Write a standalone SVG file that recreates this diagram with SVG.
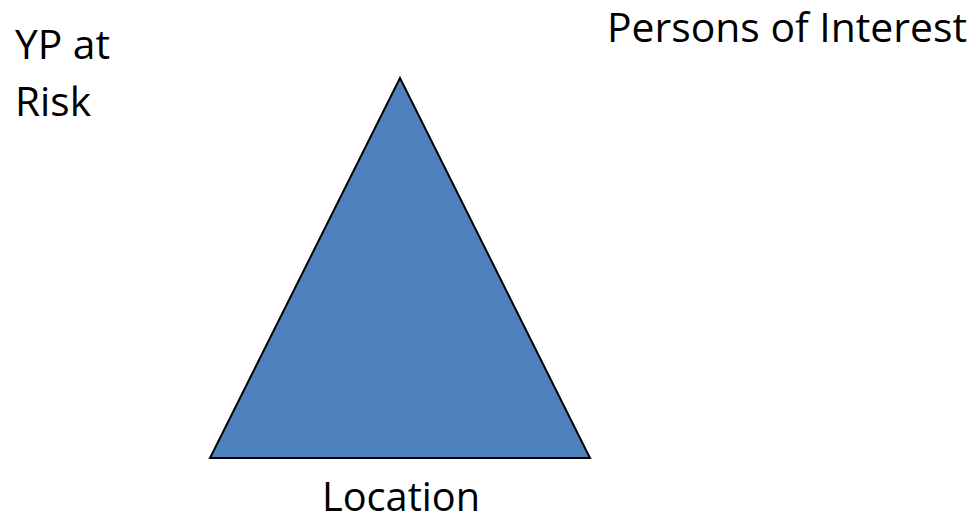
<svg xmlns="http://www.w3.org/2000/svg" width="976" height="515" viewBox="0 0 976 515">
<style>
.lbl{font-family:"Open Sans","Liberation Sans",sans-serif;font-size:40px;fill:#000}
</style>
<rect width="976" height="515" fill="#fff"/>
<g id="triangle">
<polygon points="400,78 210,458 590,458" fill="#4F81BD" stroke="#000" stroke-width="2" stroke-linejoin="miter"/>
</g>
<g id="yp-at-risk">
<text class="lbl" x="15" y="59" textLength="95" lengthAdjust="spacingAndGlyphs">YP at</text>
<text class="lbl" x="15" y="116" textLength="76" lengthAdjust="spacingAndGlyphs">Risk</text>
</g>
<g id="persons-of-interest">
<text class="lbl" x="607" y="42" textLength="360" lengthAdjust="spacingAndGlyphs">Persons of Interest</text>
</g>
<g id="location">
<text class="lbl" x="322" y="511" textLength="158" lengthAdjust="spacingAndGlyphs">Location</text>
</g>
<g id="connectors"/>
</svg>
